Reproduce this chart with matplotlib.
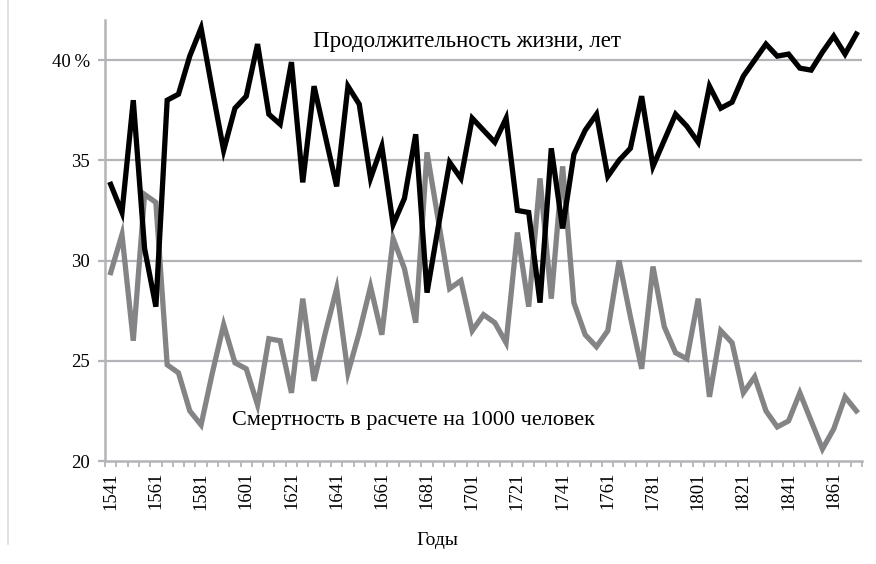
import matplotlib.pyplot as plt
from matplotlib.lines import Line2D

# годы: 1541..1871 с шагом 5
years = list(range(1541, 1872, 5))

life_expectancy = [
    33.8, 32.4, 38.0, 30.6, 27.7, 38.0, 38.3, 40.2, 41.6, 38.5,
    35.5, 37.6, 38.2, 40.8, 37.3, 36.8, 39.9, 33.9, 38.7, 36.2,
    33.7, 38.7, 37.8, 34.1, 35.7, 31.8, 33.1, 36.3, 28.4, 31.7,
    34.9, 34.1, 37.1, 36.5, 35.9, 37.1, 32.5, 32.4, 27.9, 35.6,
    31.6, 35.3, 36.5, 37.3, 34.2, 35.0, 35.6, 38.2, 34.7, 36.0,
    37.3, 36.7, 35.9, 38.7, 37.6, 37.9, 39.2, 40.0, 40.8, 40.2,
    40.3, 39.6, 39.5, 40.4, 41.2, 40.3, 41.3,
]

mortality = [
    29.4, 31.3, 26.0, 33.3, 32.9, 24.8, 24.4, 22.5, 21.8, 24.4,
    26.8, 24.9, 24.6, 22.8, 26.1, 26.0, 23.4, 28.1, 24.0, 26.4,
    28.6, 24.4, 26.4, 28.7, 26.3, 31.1, 29.6, 26.9, 35.4, 32.0,
    28.6, 29.0, 26.5, 27.3, 26.9, 25.9, 31.4, 27.7, 34.1, 28.1,
    34.7, 27.9, 26.3, 25.7, 26.5, 30.0, 27.2, 24.6, 29.7, 26.7,
    25.4, 25.1, 28.1, 23.2, 26.5, 25.9, 23.4, 24.2, 22.5, 21.7,
    22.0, 23.4, 22.0, 20.6, 21.6, 23.2, 22.5,
]

y_ticks = [20, 25, 30, 35, 40]
y_labels = ['20', '25', '30', '35', '40\u2009%']

plt.rcParams['font.family'] = ['Liberation Serif', 'DejaVu Serif']

grid_col = '#b4b4b8'

fig = plt.figure(figsize=(8.76, 5.64), dpi=100)
ax = fig.add_axes([0.1199, 0.1826, 0.8641, 0.7819])

x = list(range(len(years)))
ax.plot(x, life_expectancy, color='black', lw=3.8, solid_joinstyle='miter', zorder=3)
ax.plot(x, mortality, color='#848487', lw=3.8, solid_joinstyle='miter', zorder=2)

ax.set_xlim(-0.5, len(years) - 0.5)
ax.set_ylim(20, 42)

ax.set_yticks(y_ticks)
ax.set_yticklabels(y_labels, fontsize=13.5)
for yv in y_ticks[1:]:
    ax.axhline(yv, color=grid_col, lw=1.6, zorder=1)

ax.set_xticks(x[::4])
ax.set_xticklabels([str(y) for y in years[::4]], rotation=90, fontsize=13.5)
ax.set_xticks([i - 0.5 for i in range(len(years) + 1)], minor=True)
ax.tick_params(axis='x', which='major', length=0, pad=8)
ax.tick_params(axis='x', which='minor', length=4, width=1.3, color=grid_col)
ax.tick_params(axis='y', length=5, width=1.6, color=grid_col, pad=6)

for s in ['top', 'right']:
    ax.spines[s].set_visible(False)
for s in ['left', 'bottom']:
    ax.spines[s].set_color(grid_col)
    ax.spines[s].set_linewidth(1.8)

ax.set_xlabel('Годы', fontsize=14)
ax.xaxis.set_label_coords(0.439, -0.16)

ax.text(0.478, 0.952, 'Продолжительность жизни, лет', transform=ax.transAxes,
        ha='center', va='center', fontsize=16.5)
ax.text(0.407, 0.093, 'Смертность в расчете на 1000 человек', transform=ax.transAxes,
        ha='center', va='center', fontsize=16)

# светлая рамка слева
fig.add_artist(Line2D([0.0095, 0.0095], [0.035, 1.0], color='#dcdcdc', lw=1.2,
                      transform=fig.transFigure))

fig.savefig('out.png', dpi=100)
